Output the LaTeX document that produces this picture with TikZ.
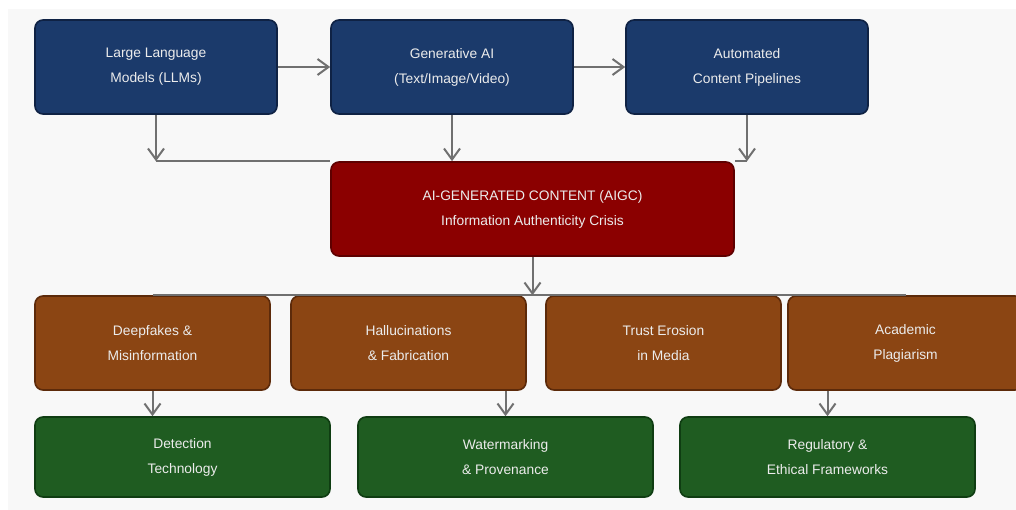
\documentclass[tikz,border=0pt]{standalone}
\usepackage{fontspec}
\setmainfont{Liberation Sans}
\usetikzlibrary{arrows.meta}
\definecolor{bluefill}{HTML}{1B3A6B}
\definecolor{blueline}{HTML}{0F2244}
\definecolor{redfill}{HTML}{8B0000}
\definecolor{redline}{HTML}{5E0000}
\definecolor{brownfill}{HTML}{8B4513}
\definecolor{brownline}{HTML}{5C2A0A}
\definecolor{greenfill}{HTML}{1F5C21}
\definecolor{greenline}{HTML}{0F3D12}
\definecolor{panel}{HTML}{F8F8F8}
\definecolor{conn}{HTML}{707070}
\definecolor{txt}{HTML}{ECECEC}
\begin{document}
\begin{tikzpicture}[x=1pt,y=-1pt,
  box/.style={rectangle, rounded corners=8pt, line width=1.6pt, text=txt, align=center,
    font=\fontsize{13.8}{25}\selectfont, inner sep=0pt},
  bluebox/.style={box, fill=bluefill, draw=blueline, minimum width=242pt, minimum height=94pt},
  redbox/.style={box, fill=redfill, draw=redline, minimum width=403pt, minimum height=94pt},
  brownbox/.style={box, fill=brownfill, draw=brownline, minimum width=235pt, minimum height=94pt},
  greenbox/.style={box, fill=greenfill, draw=greenline, minimum width=295pt, minimum height=80pt},
  conn/.style={draw=conn, line width=2pt},
  arr/.style={conn, -{Straight Barb[length=11pt,width=16pt,line width=2pt]}}
]
\clip (0,0) rectangle (1016,510);
\useasboundingbox (0,0) rectangle (1016,510);
\fill[white] (0,0) rectangle (1016,510);
\fill[panel] (8,9) rectangle (1016,510);

\node[bluebox] (llm) at (156,67) {Large Language\\Models (LLMs)};
\node[bluebox] (gen) at (452,67) {Generative AI\\(Text/Image/Video)};
\node[bluebox] (auto) at (747,67) {Automated\\Content Pipelines};

\node[redbox] (aigc) at (532.5,209) {AI-GENERATED CONTENT (AIGC)\\Information Authenticity Crisis};

\node[brownbox] (deep) at (152.5,343) {Deepfakes \&\\Misinformation};
\node[brownbox] (hall) at (408.5,343) {Hallucinations\\\& Fabrication};
\node[brownbox] (trust) at (663.5,343) {Trust Erosion\\in Media};
\node[brownbox] (acad) at (905.5,343) {Academic\\Plagiarism};

\node[greenbox] (det) at (182.5,457) {Detection\\Technology};
\node[greenbox] (wat) at (505.5,457) {Watermarking\\\& Provenance};
\node[greenbox] (reg) at (827.5,457) {Regulatory \&\\Ethical Frameworks};

\draw[arr] (llm.east) -- (gen.west);
\draw[arr] (gen.east) -- (auto.west);

\coordinate (c1) at (llm.south |- aigc.north);
\coordinate (c3) at (auto.south |- aigc.north);
\draw[arr] (llm.south) -- (c1);
\draw[conn] (c1) -- (aigc.north west);
\draw[arr] (gen.south) -- (gen.south |- aigc.north);
\draw[arr] (auto.south) -- (c3);
\draw[conn] (c3) -- (aigc.north east);

\coordinate (c4) at (aigc.south |- deep.north);
\draw[arr] (aigc.south) -- (c4);
\draw[conn] (deep.north) -- (acad.north);

\draw[arr] (deep.south) -- (deep.south |- det.north);
\draw[arr] (wat.north |- hall.south) -- (wat.north);
\draw[arr] (reg.north |- acad.south) -- (reg.north);
\end{tikzpicture}
\end{document}
